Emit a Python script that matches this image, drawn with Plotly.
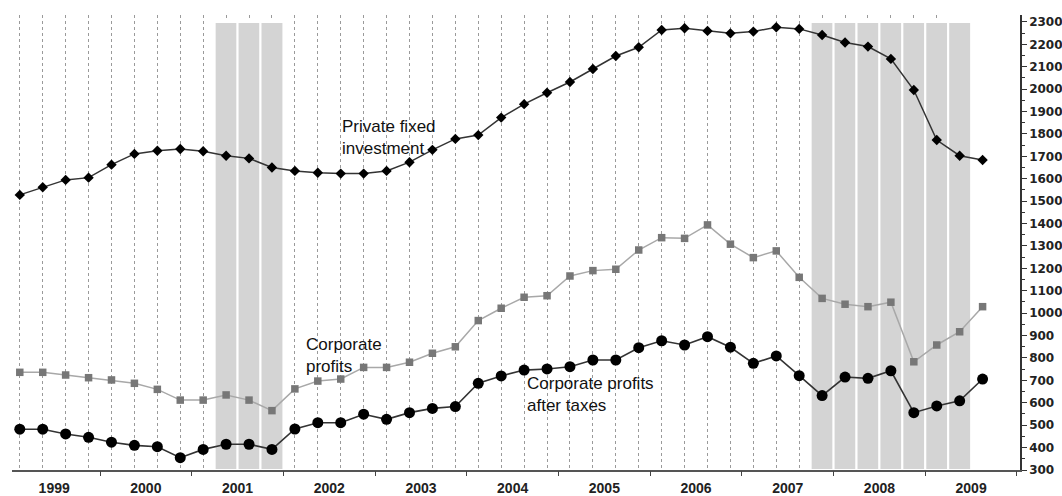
import plotly.graph_objects as go

# ---- data -------------------------------------------------------------
years = list(range(1999, 2010))
quarters = [f"{y}Q{q}" for y in years for q in range(1, 5)][:43]  # 1999Q1 .. 2009Q3

private_fixed_investment = [
    1528, 1562, 1595, 1605,
    1663, 1711, 1725, 1733,
    1723, 1703, 1691, 1650,
    1635, 1627, 1623, 1623,
    1635, 1674, 1729, 1778,
    1795, 1873, 1933, 1984,
    2032, 2090, 2148, 2187,
    2264, 2272, 2260, 2249,
    2257, 2276, 2269, 2242,
    2208, 2190, 2135, 1996,
    1773, 1703, 1684,
]
corporate_profits = [
    736, 736, 724, 712,
    702, 687, 660, 612,
    612, 635, 612, 565,
    662, 697, 706, 758,
    758, 781, 821, 850,
    967, 1022, 1071, 1078,
    1166, 1190, 1196, 1282,
    1337, 1334, 1394, 1308,
    1248, 1278, 1160, 1066,
    1040, 1029, 1049, 783,
    858, 917, 1029,
]
corporate_profits_after_taxes = [
    482, 482, 461, 446,
    424, 410, 404, 355,
    392, 415, 415, 392,
    483, 511, 511, 549,
    526, 556, 575, 583,
    687, 720, 746, 751,
    761, 791, 791, 846,
    877, 858, 895, 848,
    776, 809, 721, 632,
    715, 709, 743, 556,
    586, 609, 706,
]
recession_quarters = ["2001Q2", "2001Q3", "2001Q4",
                      "2007Q4", "2008Q1", "2008Q2", "2008Q3", "2008Q4",
                      "2009Q1", "2009Q2"]
grid_quarters = quarters[:41]  # 1999Q1 .. 2009Q1
year_labels = [str(y) for y in years]
year_bounds = list(range(2000, 2011))
y_ticks = list(range(300, 2301, 100))


def qpos(label):
    y, q = label.split("Q")
    return int(y) + (int(q) - 0.5) / 4.0


x = [qpos(q) for q in quarters]

FONT = "Liberation Sans, Arial, sans-serif"
XRANGE = [1999.04, 2010.033]

fig = go.Figure()

# recession shading (one bar per quarter)
for rq in recession_quarters:
    c = qpos(rq)
    fig.add_shape(type="rect", xref="x", yref="y",
                  x0=c - 0.125, x1=c + 0.125, y0=300, y1=2300,
                  fillcolor="#d4d4d4", line=dict(color="white", width=2),
                  layer="between")

fig.add_trace(go.Scatter(
    x=x, y=corporate_profits, mode="lines+markers", name="Corporate profits",
    line=dict(color="#a8a8a8", width=1.5),
    marker=dict(symbol="square", size=7.5, color="#777777"),
))
fig.add_trace(go.Scatter(
    x=x, y=corporate_profits_after_taxes, mode="lines+markers",
    name="Corporate profits after taxes",
    line=dict(color="#333333", width=1.6),
    marker=dict(symbol="circle", size=11, color="#000000"),
))
fig.add_trace(go.Scatter(
    x=x, y=private_fixed_investment, mode="lines+markers",
    name="Private fixed investment",
    line=dict(color="#333333", width=1.5),
    marker=dict(symbol="diamond", size=8, color="#000000"),
))
# helper trace so the year-boundary tick axis is drawn
fig.add_trace(go.Scatter(x=[year_bounds[0]], y=[None], xaxis="x2",
                         mode="markers", showlegend=False, hoverinfo="skip"))

ann_font = dict(family=FONT, size=17, color="#111111")
fig.add_annotation(x=2002.62, y=1782, xref="x", yref="y",
                   text="Private fixed<br>investment", showarrow=False,
                   xanchor="left", yanchor="middle", align="left", font=ann_font)
fig.add_annotation(x=2002.22, y=810, xref="x", yref="y",
                   text="Corporate<br>profits", showarrow=False,
                   xanchor="left", yanchor="middle", align="left", font=ann_font)
fig.add_annotation(x=2004.63, y=637, xref="x", yref="y",
                   text="Corporate profits<br>after taxes", showarrow=False,
                   xanchor="left", yanchor="middle", align="left", font=ann_font)

fig.update_layout(
    width=1062, height=496,
    margin=dict(l=12, r=42, t=15, b=26),
    paper_bgcolor="white", plot_bgcolor="white",
    showlegend=False,
    xaxis=dict(
        range=XRANGE, automargin=False,
        tickmode="array",
        tickvals=[y + 0.5 for y in years],
        ticktext=year_labels,
        ticks="outside", ticklen=4, tickcolor="rgba(0,0,0,0)",
        showline=True, linecolor="#555555", linewidth=1.5,
        showgrid=False, zeroline=False,
        tickfont=dict(family=FONT, size=14, color="#222222", weight="bold"),
        minor=dict(tickmode="array", tickvals=[qpos(q) for q in grid_quarters],
                   showgrid=True, gridcolor="#9a9a9a", griddash="dot",
                   gridwidth=1, ticks=""),
    ),
    xaxis2=dict(
        range=XRANGE, automargin=False, overlaying="x", anchor="y", side="bottom",
        tickmode="array", tickvals=year_bounds, showticklabels=False,
        ticks="outside", ticklen=5, tickwidth=1.2, tickcolor="#444444",
        showline=False, showgrid=False, zeroline=False,
    ),
    yaxis=dict(
        range=[300, 2331], automargin=False,
        side="right",
        tickmode="array", tickvals=y_ticks,
        ticks="outside", ticklen=5, tickwidth=1.2, tickcolor="#333333",
        showline=True, linecolor="#333333", linewidth=1.5,
        showgrid=False, zeroline=False,
        tickfont=dict(family="DejaVu Sans", size=12, color="#222222", weight="bold"),
        minor=dict(dtick=50, tick0=300, ticks="outside", ticklen=3,
                   tickcolor="#333333", showgrid=False),
    ),
)

fig.write_html("out.html",
               config={"displayModeBar": False},
               post_script="document.body.style.margin='0';"
                           "document.body.style.overflow='hidden';")
